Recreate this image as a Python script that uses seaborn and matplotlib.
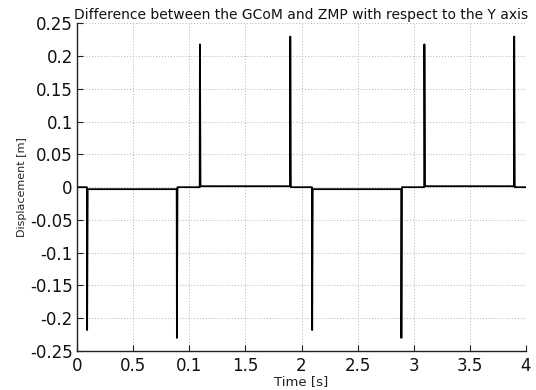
import matplotlib
matplotlib.use("Agg")
import matplotlib.pyplot as plt
import seaborn as sns
import pandas as pd

time_s = [0.0, 0.088, 0.090, 0.095, 0.888, 0.890, 0.895, 1.093, 1.095, 1.100,
          1.898, 1.900, 1.905, 2.093, 2.095, 2.100, 2.888, 2.890, 2.895,
          3.093, 3.095, 3.100, 3.893, 3.895, 3.900, 4.0]
disp_m = [0.0, 0.0, -0.218, -0.003, -0.003, -0.23, 0.0, 0.0, 0.218, 0.0015,
          0.0015, 0.23, 0.0, 0.0, -0.218, -0.003, -0.003, -0.23, 0.0,
          0.0, 0.218, 0.0015, 0.0015, 0.23, 0.0, 0.0]

xticks = [0, 0.5, 1, 1.5, 2, 2.5, 3, 3.5, 4]
xtick_labels = ["0", "0.5", "0.1", "1.5", "2", "2.5", "3", "3.5", "4"]
yticks = [0.25, 0.2, 0.15, 0.1, 0.05, 0, -0.05, -0.1, -0.15, -0.2, -0.25]
ytick_labels = ["0.25", "0.2", "0.15", "0.1", "0.05", "0", "-0.05", "-0.1", "-0.15", "-0.2", "-0.25"]

title = "Difference between the GCoM and ZMP with respect to the Y axis"

sns.set_style("white")
plt.rcParams['font.family'] = ['DejaVu Sans']

df = pd.DataFrame({"t": time_s, "d": disp_m})

fig = plt.figure(figsize=(5.36, 3.9), dpi=100)
ax = fig.add_axes([0.1437, 0.10, 0.8376, 0.84])
sns.lineplot(data=df, x="t", y="d", ax=ax, color="black", linewidth=1.3,
             estimator=None, sort=False)

ax.set_xlim(0, 4)
ax.set_ylim(-0.25, 0.25)
ax.set_xticks(xticks)
ax.set_xticklabels(xtick_labels)
ax.set_yticks(yticks)
ax.set_yticklabels(ytick_labels)

ax.grid(True, linestyle=(0, (1, 2)), color="#b4b4b4", linewidth=0.7)
for s in ["top", "right"]:
    ax.spines[s].set_visible(False)
for s in ["left", "bottom"]:
    ax.spines[s].set_color("#222222")
    ax.spines[s].set_linewidth(1.0)
ax.tick_params(axis="both", direction="in", length=4, width=0.8,
               labelsize=12, colors="#222222", labelcolor="#111111",
               top=False, right=False, left=True, bottom=True)
ax.tick_params(axis="x", pad=4)
ax.tick_params(axis="y", pad=3)

ax.set_title(title, fontsize=10, pad=3, color="#111111")
ax.set_xlabel("Time [s]", fontsize=9.5, labelpad=0, color="#222222")
ax.set_ylabel("Displacement [m]", fontsize=8, labelpad=2, color="#222222")

fig.savefig("out.png", dpi=100)
